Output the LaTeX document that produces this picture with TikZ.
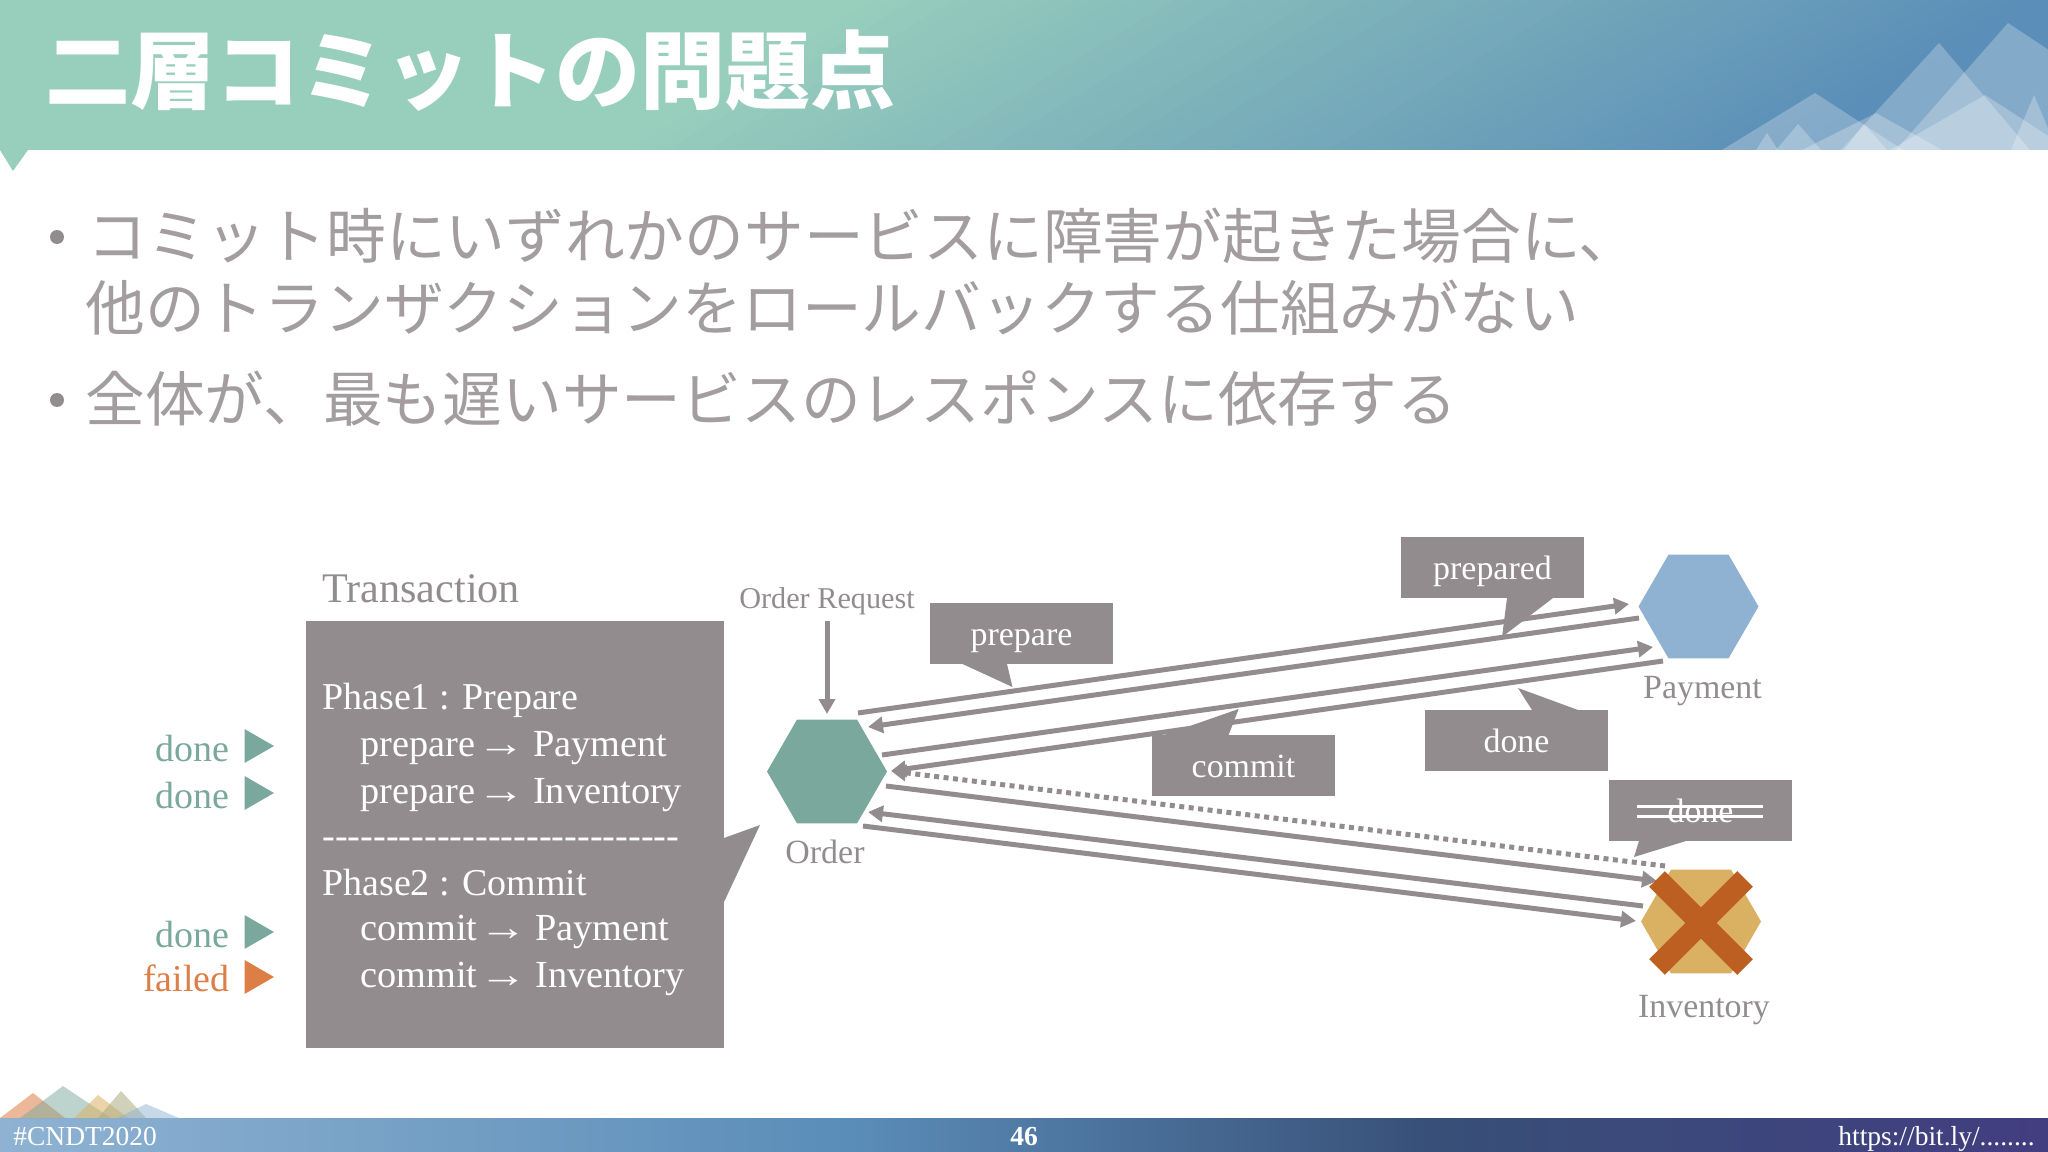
\documentclass[tikz,border=0pt]{standalone}
\usepackage{fontspec}
\usepackage{xcolor}
\usetikzlibrary{arrows.meta,shapes.geometric}
\setmainfont{Liberation Serif}
\newfontfamily\jpfont{Noto Sans CJK JP}
\newfontfamily\arrowfont{Liberation Sans}

\definecolor{boxgray}{HTML}{938C8E}
\definecolor{headgreen}{HTML}{98CFBC}
\definecolor{headblue}{HTML}{5A8DB8}
\definecolor{ordergreen}{HTML}{7BA89C}
\definecolor{paymentblue}{HTML}{8FB2D2}
\definecolor{inventoryyellow}{HTML}{DAB163}
\definecolor{crossorange}{HTML}{BC5F20}
\definecolor{failedorange}{HTML}{DC7E45}
\pgfdeclarehorizontalshading{footband}{100bp}{color(0bp)=(paymentblue); color(25bp)=(paymentblue);
  color(45.75bp)=(headblue); color(60bp)=(rgb:red,75;green,107;blue,162); color(75bp)=(rgb:red,62;green,58;blue,120); color(100bp)=(rgb:red,62;green,58;blue,120)}

\tikzset{
  hexnode/.style={regular polygon,regular polygon sides=6,minimum size=2.4cm,inner sep=0pt,fill=#1},
  msgline/.style={draw=boxgray,line width=0.1cm,-{Triangle[length=0.3cm,width=0.32cm]}},
  msgdots/.style={msgline,dash pattern=on 0.1cm off 0.09cm},
  msgbox/.style={fill=boxgray,text=white,minimum width=3.66cm,minimum height=1.22cm,inner sep=0pt,
    text height=0.65cm,text depth=0.16cm,font=\fontsize{19.3}{22}\selectfont},
  label/.style={text=boxgray,inner sep=0pt,anchor=base,font=\fontsize{19.3}{22}\selectfont},
  row/.style={text=white,inner sep=0pt,anchor=base west,font=\fontsize{21.6}{24}\selectfont},
  subrow/.style={row,font=\fontsize{21.8}{24}\selectfont},
  status/.style={inner sep=0pt,anchor=base east,font=\fontsize{21.6}{24}\selectfont},
  body/.style={text=boxgray!85!white,inner sep=0pt,anchor=base west,font=\jpfont\fontsize{34}{36}\selectfont},
  foot/.style={text=white,inner sep=0pt,font=\fontsize{15.65}{18}\selectfont},
  peak/.style={fill=white,fill opacity=0.25},
}
\newcommand{\toarrow}{\hspace{-0.14cm}\scalebox{1.25}[1]{\arrowfont →}\hspace{-0.04cm}}

\begin{document}
\begin{tikzpicture}[x=0.02cm,y=-0.02cm]
  \useasboundingbox (0,0) rectangle (2048,1152);

  % header band
  \begin{scope}
    \clip (0,0) rectangle (2048,150);
    \fill[headgreen] (0,0) rectangle (2048,150);
    \foreach \t [evaluate=\t as \p using {int(round((\t-834)/12.13))}] in {834,854,...,2047}
      \fill[headblue!\p!headgreen] (\t,0) -- (2400,0) -- (2400,150) -- (\t-246,150) -- cycle;
    \fill[peak] (2008,23) -- (1896,150) -- (2200,150) -- cycle;
    \fill[peak] (1939,43) -- (1841,150) -- (2030,150) -- cycle;
    \fill[peak] (1815,93) -- (1722,150) -- (1903,150) -- cycle;
    \fill[peak] (1876,113) -- (1802,150) -- (1942,150) -- cycle;
    \fill[peak] (1985,95) -- (1890,150) -- (2070,150) -- cycle;
    \fill[peak] (2034,95) -- (2011,150) -- (2057,150) -- cycle;
    \fill[peak] (1798,124) -- (1776,150) -- (1821,150) -- cycle;
    \fill[peak] (1767,133) -- (1756,150) -- (1778,150) -- cycle;
    \fill[peak] (1864,124) -- (1844,150) -- (1887,150) -- cycle;
  \end{scope}
  \fill[headgreen] (0,150) -- (28,150) -- (13,171) -- cycle;
  \node[text=white,inner sep=0pt,anchor=base west,font=\jpfont\bfseries\fontsize{48.4}{50}\selectfont] (title) at (45,103) {二層コミットの問題点};

  % bullets
  \node[circle,fill=boxgray,minimum size=0.28cm,inner sep=0pt] (bulleta) at (57,237) {};
  \node[circle,fill=boxgray,minimum size=0.28cm,inner sep=0pt] (bulletb) at (57,400) {};
  \node[body] (linea) at (87,258) {コミット時にいずれかのサービスに障害が起きた場合に、};
  \node[body] (lineb) at (85,330) {他のトランザクションをロールバックする仕組みがない};
  \node[body] (linec) at (85,421) {全体が、最も遅いサービスのレスポンスに依存する};

  % transaction box
  \fill[boxgray] (724,838) -- (760,825) -- (724,902) -- cycle;
  \node[fill=boxgray,minimum width=8.36cm,minimum height=8.54cm,inner sep=0pt,anchor=north west] (txbox) at (306,621) {};
  \node[text=boxgray,inner sep=0pt,anchor=base west,font=\fontsize{24}{26}\selectfont] (txtitle) at (322,602) {Transaction};
  \node[row] (phasea) at (322,709) {Phase1 : Prepare};
  \node[subrow] (preparea) at (360,756) {prepare \toarrow{} Payment};
  \node[subrow] (prepareb) at (360,803) {prepare \toarrow{} Inventory};
  \node[row,font=\fontsize{21.8}{24}\selectfont] (dashes) at (322,848) {\foreach \i in {1,...,28}{-{}}};
  \node[row] (phaseb) at (322,895) {Phase2 : Commit};
  \node[subrow] (commita) at (360,940) {commit \toarrow{} Payment};
  \node[subrow] (commitb) at (360,987) {commit \toarrow{} Inventory};

  % status marks
  \foreach \n/\x/\y/\m/\c in {donea/230/761/done/ordergreen,doneb/230/808/done/ordergreen,donec/230/947/done/ordergreen,failed/230/991/failed/failedorange}
    \node[status,text=\c] (\n) at (\x,\y) {\m};
  \foreach \y/\c in {746/ordergreen,793/ordergreen,932/ordergreen,977/failedorange}
    \fill[\c] (244.5,\y-17) -- (274,\y) -- (244.5,\y+17) -- cycle;

  % services
  \node[hexnode=ordergreen] (order) at (827,771.5) {};
  \node[hexnode=paymentblue] (payment) at (1698.5,606.5) {};
  \node[hexnode=inventoryyellow] (inventory) at (1701,921.5) {};
  \node[label] (orderlabel) at (825,863) {Order};
  \node[label] (paymentlabel) at (1702.5,698) {Payment};
  \node[label] (inventorylabel) at (1704,1017) {Inventory};
  \node[label,font=\fontsize{17.2}{20}\selectfont] (request) at (827,608) {Order Request};

  % end points on the services
  \coordinate (reqa) at (827,621);   \coordinate (reqb) at (827,714);
  \coordinate (oa) at (858,713);     \coordinate (pa) at (1629,604);
  \coordinate (pb) at (1639,618);    \coordinate (ob) at (868,727);
  \coordinate (oc) at (882,755);     \coordinate (pc) at (1653,647);
  \coordinate (pd) at (1663,661);    \coordinate (od) at (891,771);
  \coordinate (ie) at (1665,866);
  \coordinate (of) at (886,786);     \coordinate (if) at (1657,881);
  \coordinate (ig) at (1643,906);    \coordinate (og) at (868,812);
  \coordinate (oh) at (863,826);     \coordinate (ih) at (1636,921);

  \draw[msgline] (reqa) -- (reqb);
  \draw[msgline] (oa) -- (pa);
  \draw[msgline] (pb) -- (ob);
  \draw[msgline] (oc) -- (pc);
  \draw[msgline] (pd) -- (od);
  \draw[msgdots] (ie) -- (od);
  \draw[msgline] (of) -- (if);
  \draw[msgline] (ig) -- (og);
  \draw[msgline] (oh) -- (ih);

  % failed service
  \draw[crossorange,line width=0.44cm] (1657,879) -- (1745,967);
  \draw[crossorange,line width=0.44cm] (1745,879) -- (1657,967);

  % callouts
  \fill[boxgray] (962.5,664) -- (1012.5,687) -- (1007,664) -- cycle;
  \node[msgbox] (prepare) at (1021.5,633.5) {prepare};
  \fill[boxgray] (1164,735) -- (1238.6,709) -- (1228.6,735) -- cycle;
  \node[msgbox] (commit) at (1243.5,765.5) {commit};
  \fill[boxgray] (1507,598) -- (1502,637) -- (1553,598) -- cycle;
  \node[msgbox] (prepared) at (1492.5,567.5) {prepared};
  \fill[boxgray] (1532,710) -- (1518,688) -- (1578,710) -- cycle;
  \node[msgbox] (donepay) at (1516.5,740.5) {done};
  \fill[boxgray] (1639,841) -- (1634,857) -- (1686,841) -- cycle;
  \node[msgbox] (doneinv) at (1700.5,810) {done};
  \draw[white,line width=0.06cm] (1637,806) -- (1763,806);
  \draw[white,line width=0.06cm] (1637,816) -- (1763,816);

  % footer
  \shade[shading=footband] (0,1118) rectangle (2048,1152);
  \fill[failedorange,opacity=0.55] (33,1093) -- (0,1118) -- (65,1118) -- cycle;
  \fill[ordergreen,opacity=0.5] (63,1086) -- (20,1118) -- (111,1118) -- cycle;
  \fill[inventoryyellow,opacity=0.55] (98,1095) -- (74,1118) -- (128,1118) -- cycle;
  \fill[inventoryyellow!50!ordergreen,opacity=0.55] (121,1091) -- (98,1118) -- (146,1118) -- cycle;
  \fill[paymentblue,opacity=0.5] (146,1104) -- (117,1118) -- (179,1118) -- cycle;
  \node[foot,anchor=base west] (tag) at (13,1145) {\#CNDT2020};
  \node[foot,anchor=base,font=\bfseries\fontsize{15.65}{18}\selectfont] (page) at (1024,1145) {46};
  \node[foot,anchor=base east] (url) at (2035,1145) {https://bit.ly/........};
\end{tikzpicture}
\end{document}
